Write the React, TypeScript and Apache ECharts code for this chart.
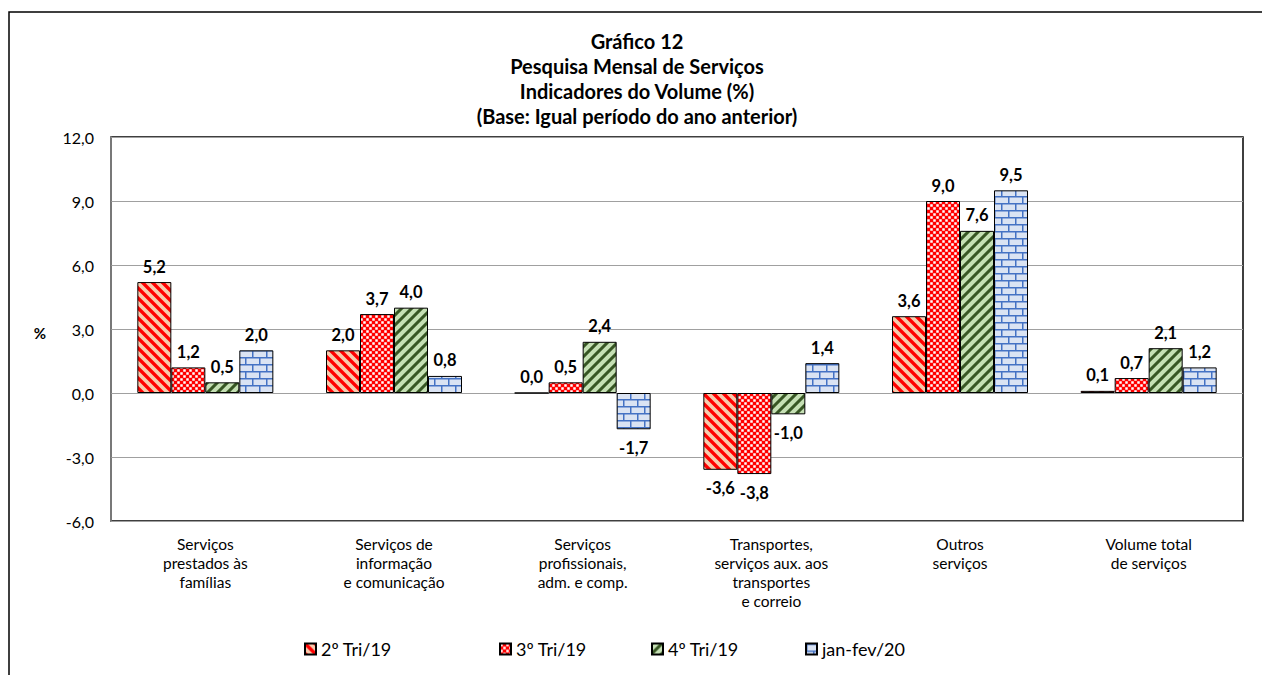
import React, { useEffect, useRef } from "react";
import * as echarts from "echarts";

const categories = [
  "Serviços\nprestados às\nfamílias",
  "Serviços de\ninformação\ne comunicação",
  "Serviços\nprofissionais,\nadm. e comp.",
  "Transportes,\nserviços aux. aos\ntransportes\ne correio",
  "Outros\nserviços",
  "Volume total\nde serviços",
];
const seriesNames = ["2º Tri/19", "3º Tri/19", "4º Tri/19", "jan-fev/20"];
const tri2_19 = [5.2, 2.0, 0.0, -3.6, 3.6, 0.1];
const tri3_19 = [1.2, 3.7, 0.5, -3.8, 9.0, 0.7];
const tri4_19 = [0.5, 4.0, 2.4, -1.0, 7.6, 2.1];
const janfev20 = [2.0, 0.8, -1.7, 1.4, 9.5, 1.2];
const yMin = -6;
const yMax = 12;
const yInterval = 3;
const titleLines = [
  "Gráfico 12",
  "Pesquisa Mensal de Serviços",
  "Indicadores do Volume (%)",
  "(Base: Igual período do ano anterior)",
];
const legendLeft = [299, 494, 646, 800];

const FONT = "Lato, 'Noto Sans', sans-serif";

function makeTile(size: number, draw: (ctx: CanvasRenderingContext2D, s: number) => void) {
  const k = 4;
  const c = document.createElement("canvas");
  c.width = size * k;
  c.height = size * k;
  const ctx = c.getContext("2d")!;
  ctx.scale(k, k);
  draw(ctx, size);
  return { image: c.toDataURL(), repeat: "repeat", imageWidth: size, imageHeight: size } as any;
}

function patterns() {
  const redDiag = makeTile(10, (ctx, s) => {
    ctx.fillStyle = "#F8CBAD";
    ctx.fillRect(0, 0, s, s);
    ctx.strokeStyle = "#FF0000";
    ctx.lineWidth = 3.4;
    for (const o of [-s, 0, s]) {
      ctx.beginPath();
      ctx.moveTo(o - 2, -2);
      ctx.lineTo(o + s + 2, s + 2);
      ctx.stroke();
    }
  });
  const checker = makeTile(6, (ctx, s) => {
    ctx.fillStyle = "#FF0000";
    ctx.fillRect(0, 0, s, s);
    ctx.fillStyle = "#FFFFFF";
    ctx.fillRect(0.25, 0.25, 2.5, 2.5);
    ctx.fillRect(3.25, 3.25, 2.5, 2.5);
  });
  const greenDiag = makeTile(10, (ctx, s) => {
    ctx.fillStyle = "#C5E0B4";
    ctx.fillRect(0, 0, s, s);
    ctx.strokeStyle = "#375623";
    ctx.lineWidth = 3;
    for (const o of [-s, 0, s]) {
      ctx.beginPath();
      ctx.moveTo(o - 2, s + 2);
      ctx.lineTo(o + s + 2, -2);
      ctx.stroke();
    }
  });
  const bricks = makeTile(14, (ctx, s) => {
    ctx.fillStyle = "#DAE3F3";
    ctx.fillRect(0, 0, s, s);
    ctx.fillStyle = "#4472C4";
    const w = 1.5;
    ctx.fillRect(0, 0, s, w);
    ctx.fillRect(0, 7, s, w);
    ctx.fillRect(0, 0, w, 7);
    ctx.fillRect(7, 7, w, 7);
  });
  return [redDiag, checker, greenDiag, bricks];
}

const fmt = (v: number) => v.toFixed(1).replace(".", ",");

export default function App() {
  const ref = useRef<HTMLDivElement>(null);
  useEffect(() => {
    if (!ref.current) return;
    const chart = echarts.init(ref.current, null, { renderer: "svg" });
    const pats = patterns();
    const allData = [tri2_19, tri3_19, tri4_19, janfev20];
    const series = allData.map((vals, i) => ({
      name: seriesNames[i],
      type: "bar",
      barWidth: 34,
      barGap: "0%",
      itemStyle: { color: pats[i], borderColor: "#000", borderWidth: 1 },
      label: {
        show: true,
        position: "top",
        distance: 7,
        formatter: (p: any) => fmt(p.value),
        fontFamily: FONT,
        fontWeight: "bold",
        fontSize: 16.5,
        color: "#000",
      },
      data: vals.map((v) =>
        v < 0 ? { value: v, label: { position: "bottom", distance: 10 } } : { value: v }
      ),
    }));
    chart.setOption({
      animation: false,
      backgroundColor: "#fff",
      textStyle: { fontFamily: FONT },
      grid: {
        left: 111,
        top: 137,
        right: 19,
        bottom: 154,
        show: true,
        borderColor: "#000",
        borderWidth: 1.5,
      },
      legend: seriesNames.map((n, i) => ({
        data: [n],
        left: legendLeft[i],
        top: 635,
        itemWidth: 11,
        itemHeight: 11,
        icon: "rect",
        textStyle: { fontFamily: FONT, fontSize: 18, color: "#000" },
        selectedMode: false,
      })),
      xAxis: {
        type: "category",
        data: categories,
        axisLine: { show: false, onZero: false },
        axisTick: { show: false },
        axisLabel: {
          margin: 13,
          fontFamily: FONT,
          fontSize: 15.5,
          lineHeight: 19,
          color: "#000",
          interval: 0,
        },
      },
      yAxis: {
        type: "value",
        min: yMin,
        max: yMax,
        interval: yInterval,
        axisLine: { show: true, lineStyle: { color: "#8c8c8c", width: 1.5 } },
        axisTick: { show: false },
        splitLine: { lineStyle: { color: "#a0a0a0", width: 1 } },
        axisLabel: {
          margin: 17,
          fontFamily: FONT,
          fontSize: 16,
          color: "#000",
          formatter: (v: number) => fmt(v),
        },
      },
      graphic: [
        {
          type: "rect",
          shape: { x: 9, y: 12, width: 1400, height: 800 },
          style: { fill: "none", stroke: "#000", lineWidth: 1.5 },
          silent: true,
        },
        {
          type: "text",
          x: 637,
          y: 28,
          style: {
            text: titleLines.join("\n"),
            fontFamily: FONT,
            fontWeight: "bold",
            fontSize: 20,
            lineHeight: 25,
            textAlign: "center",
            textVerticalAlign: "top",
            fill: "#000",
          },
        },
        {
          type: "text",
          x: 40,
          y: 333,
          style: {
            text: "%",
            fontFamily: FONT,
            fontWeight: "bold",
            fontSize: 15,
            textAlign: "center",
            textVerticalAlign: "middle",
            fill: "#000",
          },
        },
      ],
      series,
    });
    return () => chart.dispose();
  }, []);
  return (
    <div
      ref={ref}
      style={{ position: "absolute", left: 0, top: 0, width: 1262, height: 675 }}
    />
  );
}
